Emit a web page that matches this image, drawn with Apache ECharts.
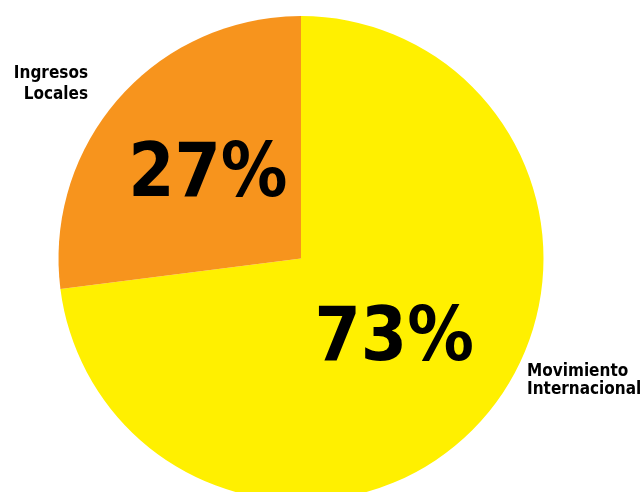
<!DOCTYPE html>
<html>
<head>
<meta charset="utf-8">
<script src="https://cdn.jsdelivr.net/npm/echarts@6/dist/echarts.min.js"></script>
<style>
html,body{margin:0;padding:0;background:#fff;}
#chart{width:644px;height:492px;}
</style>
</head>
<body>
<div id="chart"></div>
<script>
const categories = ['Movimiento\nInternacional', 'Ingresos\nLocales'];
const values = [73, 27];
const colors = ['#FFF000', '#F7941D'];

const FONT = "'Liberation Sans Narrow', 'DejaVu Sans Condensed', sans-serif";
const chart = echarts.init(document.getElementById('chart'));
const center = [301, 258.5];
const radius = 242.5;
const labelPos = [
  { x: 527, y: 381, align: 'left', lh: 18 },
  { x: 88, y: 84, align: 'right', lh: 21 }
];
const data = categories.map((n, i) => ({ name: n, value: values[i], itemStyle: { color: colors[i] } }));

chart.setOption({
  animation: false,
  series: [
    {
      type: 'pie',
      center: center,
      radius: radius,
      startAngle: 90,
      clockwise: true,
      data: data,
      itemStyle: { borderWidth: 0 },
      label: {
        position: 'inside',
        formatter: '{c}%',
        color: '#000',
        fontFamily: FONT,
        fontWeight: 'bold',
        fontSize: 74,
        overflow: 'none'
      },
      labelLine: { show: false },
      emphasis: { disabled: true }
    },
    {
      type: 'pie',
      center: center,
      radius: radius,
      startAngle: 90,
      clockwise: true,
      silent: true,
      data: data.map((d, i) => ({ name: d.name, value: d.value, label: { lineHeight: labelPos[i].lh } })),
      itemStyle: { color: 'rgba(0,0,0,0)' },
      label: {
        position: 'outside',
        formatter: '{b}',
        color: '#000',
        fontFamily: FONT,
        fontWeight: 'bold',
        fontSize: 17,
        overflow: 'none'
      },
      labelLine: { show: false },
      labelLayout: function (p) {
        const lp = labelPos[p.dataIndex];
        return { x: lp.x, y: lp.y, align: lp.align, verticalAlign: 'middle' };
      }
    }
  ]
});
</script>
</body>
</html>
